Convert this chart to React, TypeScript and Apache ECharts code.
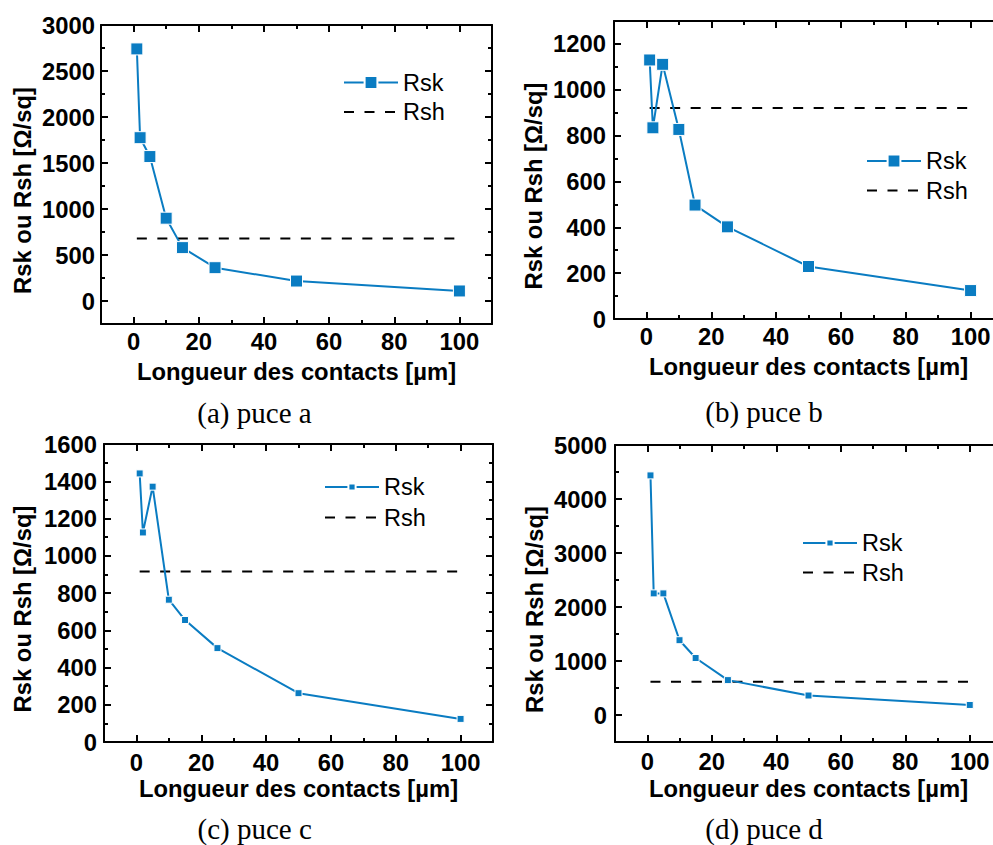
import React, { useEffect, useRef } from 'react';
import * as echarts from 'echarts';

// ---- data ----
const contactLengths = [1, 2, 5, 10, 15, 25, 50, 100];
const rskA = [2740, 1775, 1570, 900, 580, 362, 217, 109];
const rshA = 680;
const rskB = [1130, 834, 1111, 827, 497, 402, 229, 124];
const rshB = 920;
const rskC = [1442, 1125, 1371, 764, 655, 504, 262, 124];
const rshC = 915;
const rskD = [4437, 2252, 2252, 1385, 1055, 646, 361, 186];
const rshD = 614;
const captions = ['(a) puce a', '(b) puce b', '(c) puce c', '(d) puce d'];
const xAxisName = 'Longueur des contacts [µm]';
const yAxisName = 'Rsk ou Rsh [Ω/sq]';
const legendNames = ['Rsk', 'Rsh'];

const BLUE = '#0a7cc2';
const FONT = '"Liberation Sans", Arial, sans-serif';

type Panel = {
  rsk: number[];
  rsh: number;
  grid: { left: number; top: number; width: number; height: number };
  yMin: number;
  yMax: number;
  ySplit: number;
  yStep: number;
  yLabelMargin: number;
  xLabelMargin: number;
  xNameGap: number;
  yNameGap: number;
  symbolSize: number;
  legend: { left: number; top: number; itemHeight: number; itemGap: number };
  caption: { x: number; y: number };
};

const panels: Panel[] = [
  {
    rsk: rskA, rsh: rshA,
    grid: { left: 101, top: 25, width: 391, height: 299 },
    yMin: -250, yMax: 3000, ySplit: 6, yStep: 500,
    yLabelMargin: 6, xLabelMargin: 5, xNameGap: 35, yNameGap: 67,
    symbolSize: 12,
    legend: { left: 343, top: 70.5, itemHeight: 16, itemGap: 5.5 },
    caption: { x: 254.5, y: 413 },
  },
  {
    rsk: rskB, rsh: rshB,
    grid: { left: 614, top: 21, width: 389, height: 298 },
    yMin: 0, yMax: 1300, ySplit: 6, yStep: 200,
    yLabelMargin: 8, xLabelMargin: 5, xNameGap: 35, yNameGap: 69,
    symbolSize: 12,
    legend: { left: 866, top: 149, itemHeight: 16, itemGap: 5.5 },
    caption: { x: 764, y: 411.5 },
  },
  {
    rsk: rskC, rsh: rshC,
    grid: { left: 104, top: 444, width: 389, height: 298 },
    yMin: 0, yMax: 1600, ySplit: 8, yStep: 200,
    yLabelMargin: 7, xLabelMargin: 8, xNameGap: 34.5, yNameGap: 70,
    symbolSize: 7,
    legend: { left: 324, top: 475, itemHeight: 9, itemGap: 6.5 },
    caption: { x: 254.7, y: 829 },
  },
  {
    rsk: rskD, rsh: rshD,
    grid: { left: 615, top: 445, width: 387, height: 297 },
    yMin: -500, yMax: 5000, ySplit: 5, yStep: 1000,
    yLabelMargin: 8, xLabelMargin: 7, xNameGap: 34, yNameGap: 69,
    symbolSize: 7,
    legend: { left: 802, top: 531, itemHeight: 9, itemGap: 5.5 },
    caption: { x: 764, y: 829 },
  },
];

const tickStyle = { color: '#000', width: 2 };
const labelStyle = { fontSize: 23.8, fontWeight: 'bold' as const, color: '#000', fontFamily: FONT };

function buildOption() {
  const grid: any[] = [];
  const xAxis: any[] = [];
  const yAxis: any[] = [];
  const series: any[] = [];
  const legend: any[] = [];
  const graphic: any[] = [];

  panels.forEach((p, i) => {
    grid.push({ ...p.grid, show: false, containLabel: false, outerBoundsMode: 'none' });
    const baseX = {
      type: 'value', gridIndex: i, min: -10, max: 110, splitNumber: 6,
      axisLine: { show: true, onZero: false, lineStyle: { color: '#000', width: 2 } },
      axisTick: { show: true, inside: true, length: 7, lineStyle: tickStyle },
      minorTick: { show: true, splitNumber: 2, length: 4, lineStyle: tickStyle },
      splitLine: { show: false },
    };
    xAxis.push({
      ...baseX, position: 'bottom',
      name: xAxisName, nameLocation: 'middle', nameGap: p.xNameGap,
      nameTextStyle: { ...labelStyle },
      axisLabel: {
        ...labelStyle, margin: p.xLabelMargin,
        formatter: (v: number) => (v >= 0 && v <= 100 && v % 20 === 0 ? String(v) : ''),
      },
    });
    xAxis.push({ ...baseX, position: 'top', axisLabel: { show: false } });
    const baseY = {
      type: 'value', gridIndex: i, min: p.yMin, max: p.yMax, splitNumber: p.ySplit,
      axisLine: { show: true, onZero: false, lineStyle: { color: '#000', width: 2 } },
      axisTick: { show: true, inside: true, length: 7, lineStyle: tickStyle },
      minorTick: { show: true, splitNumber: 2, length: 4, lineStyle: tickStyle },
      splitLine: { show: false },
    };
    yAxis.push({
      ...baseY, position: 'left',
      name: yAxisName, nameLocation: 'middle', nameGap: p.yNameGap,
      nameTextStyle: { ...labelStyle, padding: [0, 32, 0, 0] },
      axisLabel: {
        ...labelStyle, margin: p.yLabelMargin,
        formatter: (v: number) => (v >= 0 && v % p.yStep === 0 ? String(v) : ''),
      },
    });
    yAxis.push({ ...baseY, position: 'right', axisLabel: { show: false } });

    series.push({
      type: 'line', name: legendNames[0],
      xAxisIndex: 2 * i, yAxisIndex: 2 * i,
      data: contactLengths.map((x, k) => [x, p.rsk[k]]),
      symbol: 'rect', symbolSize: p.symbolSize,
      lineStyle: { color: BLUE, width: 2 },
      itemStyle: { color: BLUE, borderColor: '#fff', borderWidth: 1 },
      z: 3,
    });
    series.push({
      type: 'line', name: legendNames[1],
      xAxisIndex: 2 * i, yAxisIndex: 2 * i,
      data: [
        [contactLengths[0], p.rsh],
        [contactLengths[contactLengths.length - 1], p.rsh],
      ],
      symbol: 'none',
      lineStyle: { color: '#000', width: 2, type: [10, 10.5] },
      itemStyle: { color: '#000' },
      z: 2,
    });

    legend.push({
      orient: 'vertical', left: p.legend.left, top: p.legend.top, padding: 0,
      itemWidth: 54, itemHeight: p.legend.itemHeight, itemGap: p.legend.itemGap,
      selectedMode: false,
      textStyle: { fontSize: 23.5, color: '#000', fontFamily: FONT },
      data: [
        { name: legendNames[0] },
        { name: legendNames[1], itemStyle: { opacity: 0 } },
      ],
    });

    graphic.push({
      type: 'text', x: p.caption.x, y: p.caption.y, silent: true,
      style: {
        text: captions[i], fill: '#000',
        font: '29px "Liberation Serif", "Times New Roman", serif',
        align: 'center', verticalAlign: 'middle',
      },
    });
  });

  return { animation: false, backgroundColor: '#fff', grid, xAxis, yAxis, series, legend, graphic };
}

export default function App() {
  const ref = useRef<HTMLDivElement>(null);
  useEffect(() => {
    if (!ref.current) return;
    const chart = echarts.init(ref.current, undefined, { renderer: 'svg' });
    chart.setOption(buildOption() as any);
    return () => chart.dispose();
  }, []);
  return (
    <div
      ref={ref}
      style={{ position: 'absolute', left: 0, top: 0, width: 993, height: 845, background: '#fff' }}
    />
  );
}
